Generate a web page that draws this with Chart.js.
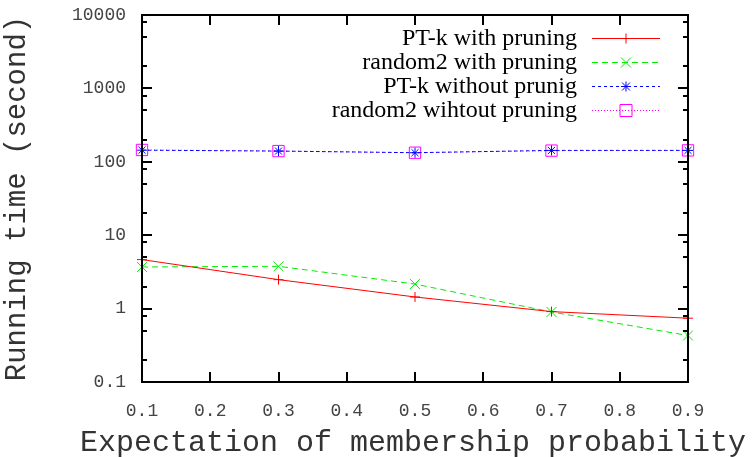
<!DOCTYPE html>
<html>
<head>
<meta charset="utf-8">
<script src="https://cdn.jsdelivr.net/npm/chart.js@4/dist/chart.umd.min.js"></script>
<style>
  html, body { margin: 0; padding: 0; background: #fff; }
  #wrap { width: 756px; height: 457px; }
</style>
</head>
<body>
<div id="wrap"><canvas id="chart" width="756" height="457"></canvas></div>
<script>
// data
const xValues = [0.1, 0.3, 0.5, 0.7, 0.9];
const ptkPruning = [4.65, 2.48, 1.44, 0.91, 0.74];
const random2Pruning = [3.69, 3.77, 2.16, 0.90, 0.43];
const ptkNoPruning = [144, 140, 133, 143, 143];
const random2NoPruning = [145, 140, 133, 142, 143];

const seriesLabels = ['PT-k with pruning', 'random2 with pruning', 'PT-k without prunig', 'random2 wihtout pruning'];
const xTicks = [0.1, 0.2, 0.3, 0.4, 0.5, 0.6, 0.7, 0.8, 0.9];
const yMajorTicks = [0.1, 1, 10, 100, 1000, 10000];
const yTickLabels = ['0.1', '1', '10', '100', '1000', '10000'];
const yMinorFactors = [2, 5, 8];
const xTitle = 'Expectation of membership probability';
const yTitle = 'Running time (second)';

const toPoints = ys => ys.map((y, i) => ({ x: xValues[i], y: y }));

// y ticks: majors plus gnuplot-like minors at 2, 5, 8
const yAllTicks = [];
yMajorTicks.forEach((v, i) => {
    yAllTicks.push({ value: v, major: true });
    if (i < yMajorTicks.length - 1) {
        yMinorFactors.forEach(f => yAllTicks.push({ value: +(v * f).toPrecision(3), major: false }));
    }
});

function marker(ctx, style, x, y, color) {
    ctx.save();
    ctx.strokeStyle = color;
    ctx.lineWidth = 1;
    ctx.setLineDash([]);
    ctx.beginPath();
    if (style === 'cross') {
        ctx.moveTo(x - 5, y); ctx.lineTo(x + 5, y);
        ctx.moveTo(x, y - 5); ctx.lineTo(x, y + 5);
    } else if (style === 'crossRot') {
        ctx.moveTo(x - 5, y - 5); ctx.lineTo(x + 5, y + 5);
        ctx.moveTo(x - 5, y + 5); ctx.lineTo(x + 5, y - 5);
    } else if (style === 'star') {
        ctx.moveTo(x - 5, y); ctx.lineTo(x + 5, y);
        ctx.moveTo(x, y - 5); ctx.lineTo(x, y + 5);
        ctx.moveTo(x - 4, y - 4); ctx.lineTo(x + 4, y + 4);
        ctx.moveTo(x - 4, y + 4); ctx.lineTo(x + 4, y - 4);
    } else if (style === 'rect') {
        ctx.rect(x - 6, y - 6, 12, 12);
    }
    ctx.stroke();
    ctx.restore();
}

// frame, inward ticks, x title and legend in gnuplot style
const gnuplotFrame = {
    id: 'gnuplotFrame',
    afterDraw(chart) {
        const { ctx, chartArea: a, scales } = chart;
        ctx.save();
        ctx.strokeStyle = '#000';
        ctx.lineWidth = 2;
        ctx.strokeRect(a.left, a.top, a.right - a.left, a.bottom - a.top);

        ctx.beginPath();
        scales.y.ticks.forEach(t => {
            const py = Math.round(scales.y.getPixelForValue(t.value));
            const len = t.major ? 10 : 5;
            if (t.value === 0.1 || t.value === 10000) return;
            ctx.moveTo(a.left, py); ctx.lineTo(a.left + len, py);
            ctx.moveTo(a.right, py); ctx.lineTo(a.right - len, py);
        });
        scales.x.ticks.forEach(t => {
            const px = Math.round(scales.x.getPixelForValue(t.value));
            if (t.value === 0.1 || t.value === 0.9) return;
            ctx.moveTo(px, a.bottom); ctx.lineTo(px, a.bottom - 10);
            ctx.moveTo(px, a.top); ctx.lineTo(px, a.top + 10);
        });
        ctx.stroke();

        ctx.fillStyle = '#333';
        ctx.font = '30px "Liberation Mono", monospace';
        ctx.textAlign = 'center';
        ctx.textBaseline = 'alphabetic';
        ctx.fillText(xTitle, 413, 451);

        ctx.font = '24px "Liberation Serif", serif';
        ctx.fillStyle = '#000';
        ctx.textAlign = 'right';
        ctx.textBaseline = 'middle';
        chart.data.datasets.forEach((ds, i) => {
            const y = 38 + i * 24;
            ctx.fillText(ds.label, 577, y + 1);
            ctx.save();
            ctx.strokeStyle = ds.borderColor;
            ctx.lineWidth = 1;
            ctx.setLineDash(ds.borderDash || []);
            ctx.beginPath();
            ctx.moveTo(592, y + 0.5); ctx.lineTo(660, y + 0.5);
            ctx.stroke();
            ctx.restore();
            marker(ctx, ds.pointStyle, 626, y + 0.5, ds.borderColor);
        });
        ctx.restore();
    }
};

// invisible grid ticks only used to push the labels away from the axis
const hiddenGrid = len => ({
    display: true,
    drawOnChartArea: false,
    drawTicks: true,
    tickLength: len,
    color: 'rgba(0,0,0,0)'
});

new Chart(document.getElementById('chart'), {
    type: 'line',
    data: {
        datasets: [{
            label: seriesLabels[0],
            data: toPoints(ptkPruning),
            borderColor: '#ff0000',
            pointStyle: 'cross',
            pointRadius: 5
        }, {
            label: seriesLabels[1],
            data: toPoints(random2Pruning),
            borderColor: '#00ee00',
            borderDash: [6, 4],
            pointStyle: 'crossRot',
            pointRadius: 7
        }, {
            label: seriesLabels[2],
            data: toPoints(ptkNoPruning),
            borderColor: '#0000ff',
            borderDash: [3, 3],
            pointStyle: 'star',
            pointRadius: 5
        }, {
            label: seriesLabels[3],
            data: toPoints(random2NoPruning),
            borderColor: '#ff00ff',
            borderDash: [1, 2],
            pointStyle: 'rect',
            pointRadius: 8
        }]
    },
    options: {
        responsive: false,
        animation: false,
        clip: false,
        layout: { padding: { top: 15, right: 68, left: 0, bottom: 0 } },
        elements: {
            line: { borderWidth: 1, tension: 0, fill: false },
            point: { borderWidth: 1, backgroundColor: 'rgba(0,0,0,0)', hoverRadius: 6 }
        },
        plugins: {
            legend: { display: false },
            tooltip: { enabled: false }
        },
        scales: {
            x: {
                type: 'linear',
                min: 0.1,
                max: 0.9,
                afterBuildTicks: s => { s.ticks = xTicks.map(v => ({ value: v })); },
                afterFit: s => { s.height = 75; },
                grid: hiddenGrid(18),
                border: { display: false },
                ticks: {
                    autoSkip: false,
                    maxRotation: 0,
                    padding: 0,
                    color: '#444',
                    font: { family: 'Liberation Mono', size: 18 },
                    callback: v => v.toFixed(1)
                }
            },
            y: {
                type: 'logarithmic',
                min: 0.1,
                max: 10000,
                afterBuildTicks: s => { s.ticks = yAllTicks.map(t => ({ value: t.value, major: t.major })); },
                afterFit: s => { s.width = 142; },
                grid: hiddenGrid(16),
                border: { display: false },
                ticks: {
                    autoSkip: false,
                    padding: 0,
                    color: '#444',
                    font: { family: 'Liberation Mono', size: 18 },
                    callback: v => {
                        const i = yMajorTicks.indexOf(v);
                        return i >= 0 ? yTickLabels[i] : '';
                    }
                },
                title: {
                    display: true,
                    text: yTitle,
                    color: '#333',
                    padding: 0,
                    font: { family: 'Liberation Mono', size: 29, lineHeight: 1.2 }
                }
            }
        }
    },
    plugins: [gnuplotFrame]
});
</script>
</body>
</html>
